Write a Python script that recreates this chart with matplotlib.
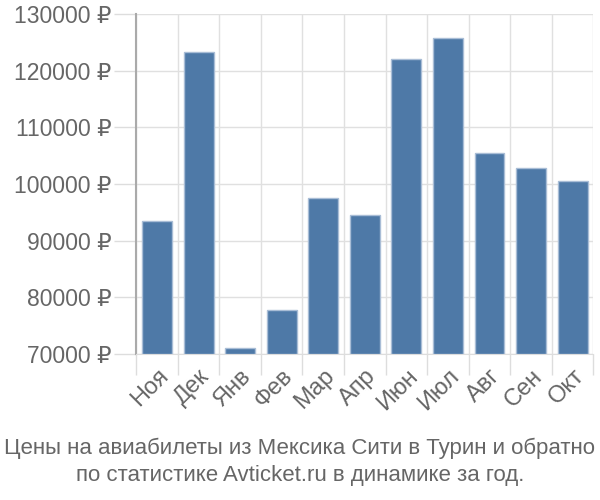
import matplotlib
matplotlib.use("Agg")
import matplotlib.pyplot as plt
from matplotlib import font_manager
import numpy as np

months = ["Ноя", "Дек", "Янв", "Фев", "Мар", "Апр", "Июн", "Июл", "Авг", "Сен", "Окт"]
prices = [93400, 123300, 71000, 77800, 97600, 94500, 122000, 125800, 105500, 102900, 100500]
yticks = [70000, 80000, 90000, 100000, 110000, 120000, 130000]
title_lines = ["Цены на авиабилеты из Мексика Сити в Турин и обратно",
               "по статистике Avticket.ru в динамике за год."]

plt.rcParams['font.family'] = ['Liberation Sans', 'DejaVu Sans']

names = {f.name for f in font_manager.fontManager.ttflist}
narrow = 'Liberation Sans Narrow' in names

fig = plt.figure(figsize=(6, 5), dpi=100)
ax = fig.add_axes([0.227, 0.292, 0.762, 0.68])

x = np.arange(len(months))
ax.bar(x, [p - 70000 for p in prices], bottom=70000, width=0.72,
       color="#4e79a7", edgecolor="#a9bdd6", linewidth=1.0, zorder=3)

ax.set_xlim(-0.5, len(months) - 0.5)
ax.set_ylim(70000, 130000)
ax.set_yticks(yticks)
ax.set_yticklabels([f"{v} ₽" for v in yticks])
ax.set_xticks(x)
ax.set_xticklabels(months, rotation=45, ha="right", va="top", rotation_mode="anchor")
ax.set_xticks(np.arange(-0.5, len(months), 1.0), minor=True)

ax.tick_params(axis="y", length=16, width=1, color="#dddddd", labelsize=16.5,
               labelcolor="#666666", pad=2)
ax.tick_params(axis="x", which="major", length=0, labelsize=17,
               labelcolor="#666666", pad=8)
ax.tick_params(axis="x", which="minor", length=15, width=1, color="#dddddd")

ax.grid(axis="y", color="#e0e0e0", linewidth=1, zorder=0)
ax.grid(axis="x", which="minor", color="#e0e0e0", linewidth=1, zorder=0)
ax.set_axisbelow(True)

for s in ["top", "right"]:
    ax.spines[s].set_visible(False)
ax.spines["bottom"].set_color("#dddddd")
ax.spines["left"].set_color("#aaaaaa")
ax.spines["left"].set_linewidth(1.5)

if narrow:
    cap_family = ['Liberation Sans Narrow', 'Liberation Sans', 'DejaVu Sans']
    cap_size = 17.5
else:
    cap_family = ['Liberation Sans', 'DejaVu Sans']
    cap_size = 16
fig.text(0.5, 0.104, title_lines[0], ha="center", va="center", fontsize=cap_size,
         color="#666666", family=cap_family)
fig.text(0.5, 0.050, title_lines[1], ha="center", va="center", fontsize=cap_size,
         color="#666666", family=cap_family)

fig.savefig("out.png", dpi=100)
